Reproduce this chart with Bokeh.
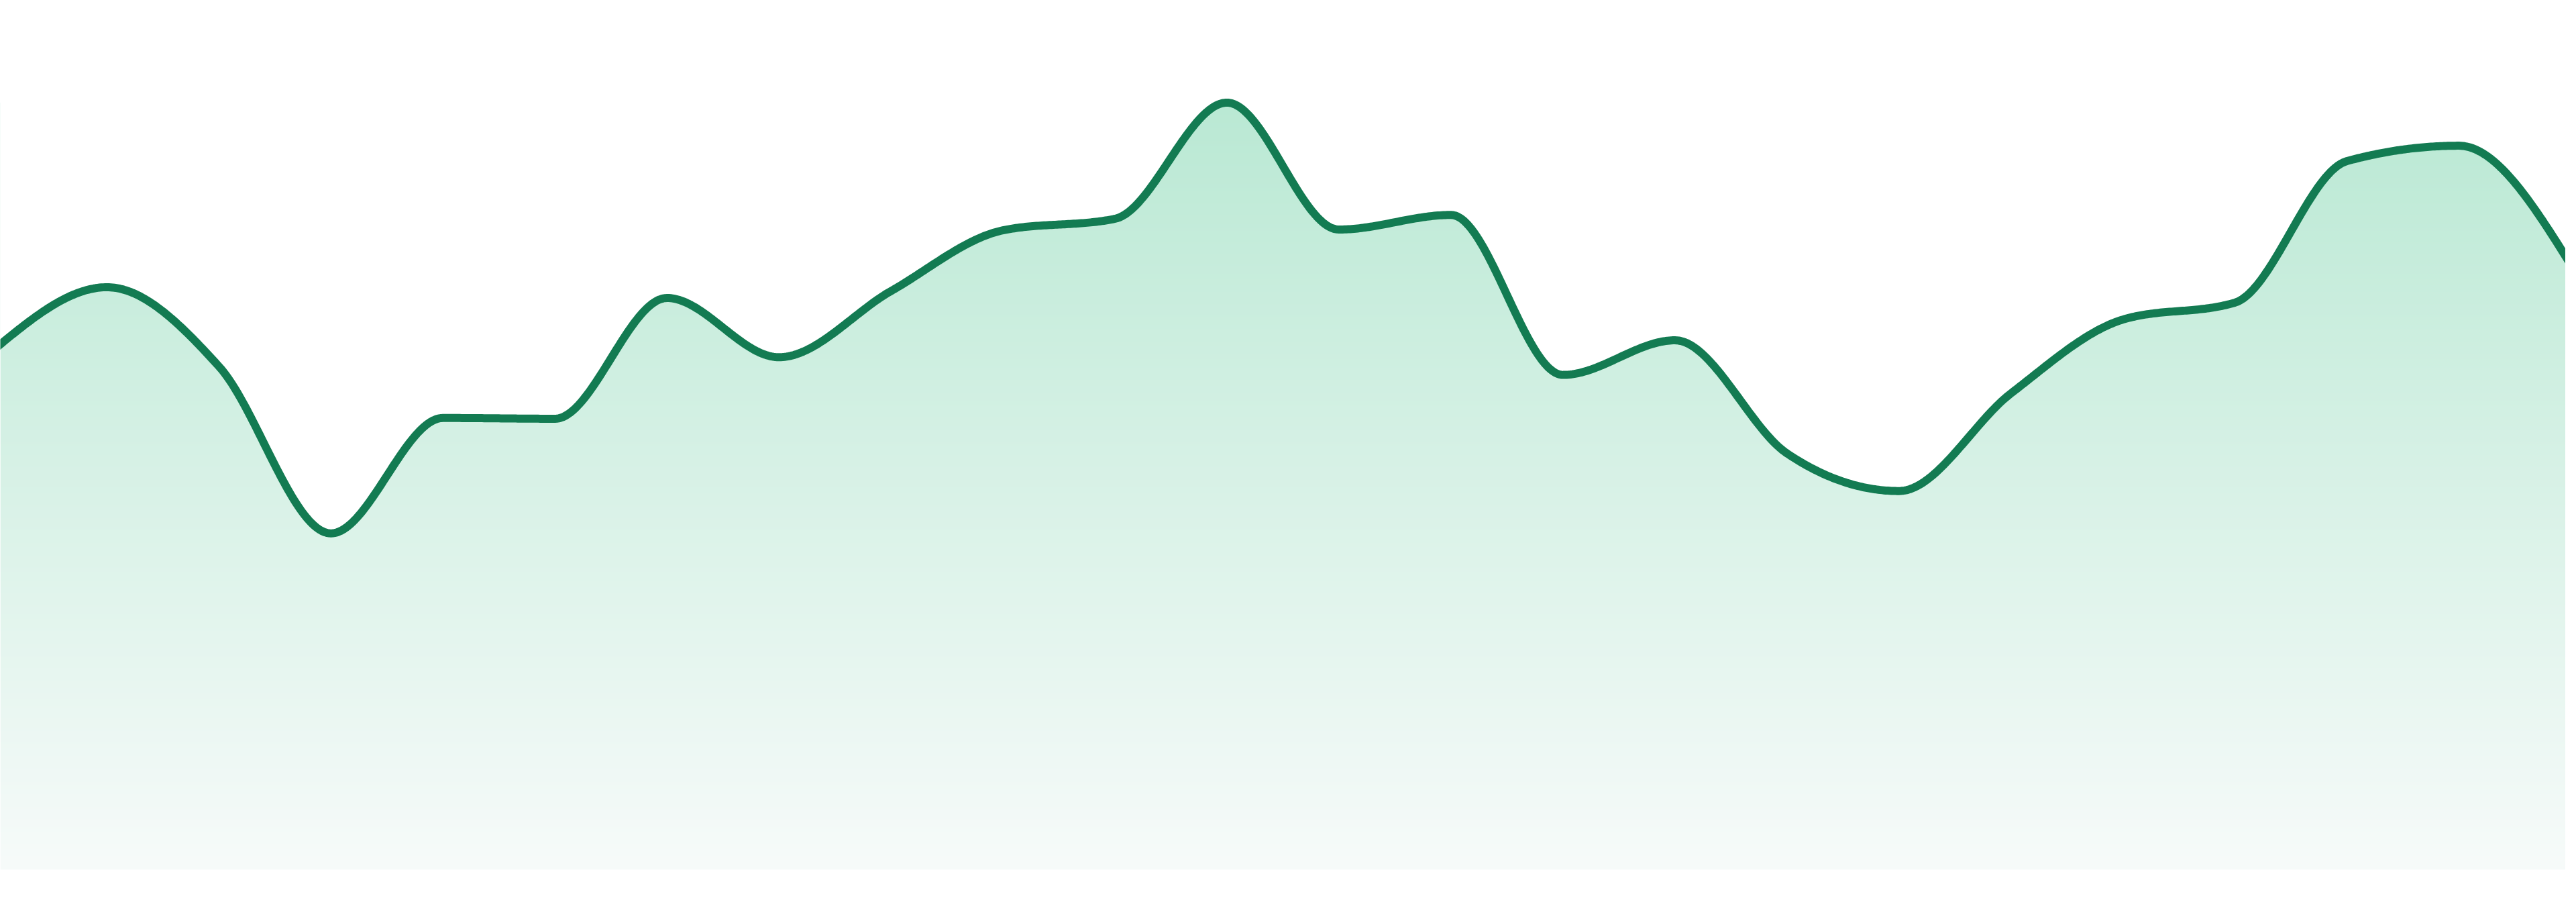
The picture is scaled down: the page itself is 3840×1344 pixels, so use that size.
import numpy as np
from bokeh.plotting import figure
from bokeh.models import Range1d
from bokeh.embed import file_html
from bokeh.resources import INLINE

# ---- data -------------------------------------------------------------
steps = list(range(24))
values = [67.7, 75.7, 65.4, 43.7, 58.7, 58.6, 74.3, 66.6, 75.2, 83.1,
          84.6, 99.7, 83.2, 85.1, 64.3, 68.8, 54.1, 49.2, 61.9, 71.5,
          73.7, 92.1, 94.1, 78.6]

LINE_COLOR = "#137b52"
FILL_TOP = (186, 233, 212)
FILL_BOTTOM = (247, 251, 250)


# ---- monotone-x cubic (same rule as d3.curveMonotoneX) -----------------
def _sign(v):
    return -1.0 if v < 0 else 1.0


def monotone_tangents(x, y):
    n = len(x)
    t = [0.0] * n
    for i in range(1, n - 1):
        h0 = x[i] - x[i - 1]
        h1 = x[i + 1] - x[i]
        s0 = (y[i] - y[i - 1]) / h0
        s1 = (y[i + 1] - y[i]) / h1
        p = (s0 * h1 + s1 * h0) / (h0 + h1)
        if s0 == 0 or s1 == 0 or (s0 > 0) != (s1 > 0):
            t[i] = 0.0
        else:
            t[i] = (_sign(s0) + _sign(s1)) * min(abs(s0), abs(s1), 0.5 * abs(p))
    h = x[1] - x[0]
    t[0] = (3 * (y[1] - y[0]) / h - t[1]) / 2
    h = x[-1] - x[-2]
    t[-1] = (3 * (y[-1] - y[-2]) / h - t[-2]) / 2
    return t


def monotone_curve(x, y, per_seg=60):
    t = monotone_tangents(x, y)
    xs, ys = [], []
    for i in range(len(x) - 1):
        dx = x[i + 1] - x[i]
        p0, p3 = y[i], y[i + 1]
        p1 = p0 + dx * t[i] / 3
        p2 = p3 - dx * t[i + 1] / 3
        u = np.linspace(0, 1, per_seg, endpoint=(i == len(x) - 2))
        xs.extend(x[i] + dx * u)
        ys.extend((1 - u) ** 3 * p0 + 3 * (1 - u) ** 2 * u * p1
                  + 3 * (1 - u) * u ** 2 * p2 + u ** 3 * p3)
    return np.array(xs), np.array(ys)


cx, cy = monotone_curve(steps, values)

# ---- layout -------------------------------------------------------------
W, H = 3824, 1328
ppu = 3840 / (len(steps) - 1)          # pixels per step in the reference
vpx = 11.46                            # pixels per value unit
base_px = 1303
x_lo, x_hi = 8 / ppu, 3832 / ppu
y_lo, y_hi = (base_px - 1336) / vpx, (base_px - 8) / vpx

p = figure(width=W, height=H, x_range=Range1d(x_lo, x_hi),
           y_range=Range1d(y_lo, y_hi), output_backend="svg",
           toolbar_location=None, x_axis_type=None, y_axis_type=None,
           min_border=0)
p.grid.visible = False
p.outline_line_color = None
p.background_fill_color = "white"
p.border_fill_color = "white"

# vertical gradient under the curve
N = 800
img = np.empty((N, 2), dtype=np.uint32)
view = img.view(dtype=np.uint8).reshape((N, 2, 4))
f = np.linspace(0, 1, N)
for c in range(3):
    view[:, :, c] = (FILL_BOTTOM[c] + (FILL_TOP[c] - FILL_BOTTOM[c]) * f)[:, None]
view[:, :, 3] = 255
vmax = max(values)
p.image_rgba(image=[img], x=x_lo, y=0, dw=x_hi - x_lo, dh=vmax)

# white mask above the curve
p.varea(x=cx, y1=cy, y2=y_hi, fill_color="white")

# the line
p.line(cx, cy, line_width=12, line_color=LINE_COLOR,
       line_join="round", line_cap="round")

open("out.html", "w").write(file_html(p, INLINE))
